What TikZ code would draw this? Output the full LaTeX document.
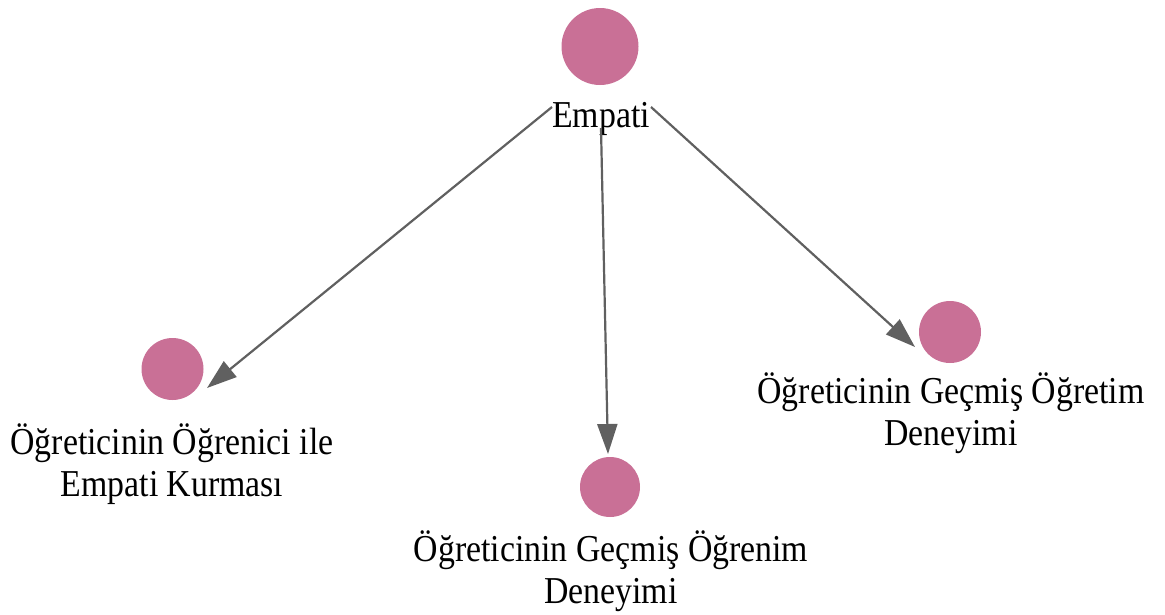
\documentclass[tikz,border=0pt]{standalone}
\usepackage{fontspec}
\setmainfont{Liberation Serif}[FakeStretch=0.89]
\usetikzlibrary{arrows.meta}
\definecolor{dotpink}{RGB}{201,112,150}
\definecolor{edgegray}{RGB}{96,96,96}
\tikzset{
  dot/.style={circle, fill=dotpink, draw=none, inner sep=0pt},
  lbl/.style={anchor=base, align=center, inner sep=0pt, font=\fontsize{38}{42}\selectfont},
  edge/.style={draw=edgegray, line width=2.2pt, -{Triangle[length=30pt,width=20pt]}}
}
\begin{document}
\begin{tikzpicture}[x=1pt,y=-1pt]
\useasboundingbox (0,0) rectangle (1165,614);
% nodes
\node[dot, minimum size=77pt] (c0) at (600,46.5) {};
\node[lbl] (l0) at (601,127) {Empati};
\node[dot, minimum size=62pt] (c1) at (172.5,369) {};
\node[lbl] (l1) at (172,496) {Öğreticinin Öğrenici ile\\Empati Kurması};
\node[dot, minimum size=60pt] (c2) at (610,487) {};
\node[lbl] (l2) at (611,603) {Öğreticinin Geçmiş Öğrenim\\Deneyimi};
\node[dot, minimum size=62pt] (c3) at (950,332) {};
\node[lbl] (l3) at (951,445) {Öğreticinin Geçmiş Öğretim\\Deneyimi};
% edge endpoints
\coordinate (s1) at (552,107);
\coordinate (t1) at (207,388);
\coordinate (s2) at (601,128);
\coordinate (t2) at (608,454);
\coordinate (s3) at (651,107);
\coordinate (t3) at (915,347);
\draw[edge] (s1) -- (t1);
\draw[edge] (s2) -- (t2);
\draw[edge] (s3) -- (t3);
\end{tikzpicture}
\end{document}
